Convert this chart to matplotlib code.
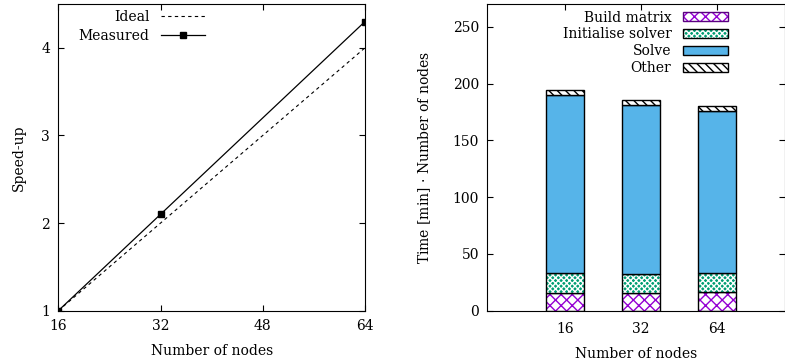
#!/usr/bin/env python3
# -*- coding: utf-8 -*-
"""Speed-up and time breakdown vs. number of nodes."""

import numpy as np
import matplotlib
matplotlib.use("Agg")
import matplotlib.pyplot as plt
from matplotlib.patches import Patch
from matplotlib.lines import Line2D

# --- data ---
nodes = [16, 32, 64]
speedup_ideal = [1.0, 2.0, 4.0]
speedup_measured = [1.0, 2.1, 4.3]

node_labels = ["16", "32", "64"]
t_build = [15.3, 15.9, 16.5]
t_init = [18.2, 16.7, 17.0]
t_solve = [156.6, 148.4, 142.5]
t_other = [4.2, 4.2, 4.5]

plt.rcParams["font.family"] = ["DejaVu Serif"]
plt.rcParams["font.size"] = 10
plt.rcParams["hatch.linewidth"] = 1.0

W, H = 785, 364
fig = plt.figure(figsize=(W / 100, H / 100), dpi=100)

bot = 1 - 310.7 / H
top = 1 - 4 / H

# ---------------- left: speed-up ----------------
ax1 = fig.add_axes([58.3 / W, bot, (365 - 58.3) / W, top - bot])
ax1.plot(nodes, speedup_ideal, ls=(0, (3, 3)), lw=0.8, color="black", label="Ideal")
ax1.plot(nodes, speedup_measured, ls="-", lw=0.9, color="black",
         marker="s", ms=4, label="Measured")
ax1.set_xlim(16, 64)
ax1.set_ylim(1, 4.5)
ax1.set_xticks([16, 32, 48, 64])
ax1.set_yticks([1, 2, 3, 4])
ax1.tick_params(direction="in", top=True, right=True, length=4, pad=6)
ax1.set_xlabel("Number of nodes", labelpad=8)
ax1.set_ylabel("Speed-up", labelpad=11)
h1 = [Line2D([], [], ls=(0, (3, 3)), lw=0.8, color="black"),
      Line2D([], [], ls="-", lw=0.9, color="black", marker="s", ms=4)]
ax1.legend(h1, ["Ideal", "Measured"], loc="upper left",
           bbox_to_anchor=(0.035, 1.012), frameon=False, markerfirst=False,
           handlelength=3.2, labelspacing=0.35, borderpad=0.2)

# ---------------- right: time breakdown ----------------
ax2 = fig.add_axes([487.3 / W, bot, 1.0 - 487.3 / W, top - bot])
x = np.arange(len(node_labels))
wbar = 0.5

layers = [
    ("Build matrix", t_build, "white", "#9400d3", "xxx"),
    ("Initialise solver", t_init, "#009e73", "white", "xxxxxx"),
    ("Solve", t_solve, "#56b4e9", "#56b4e9", None),
    ("Other", t_other, "white", "black", "\\\\\\\\"),
]
base = np.zeros(len(x))
handles = []
for name, vals, fc, hc, hatch in layers:
    vals = np.asarray(vals)
    ax2.bar(x, vals, wbar, bottom=base, color=fc, edgecolor=hc, hatch=hatch, lw=0)
    ax2.bar(x, vals, wbar, bottom=base, facecolor="none", edgecolor="black", lw=1.0)
    base = base + vals
    outline_c = "#5a0080" if name == "Build matrix" else "black"
    handles.append((Patch(facecolor=fc, edgecolor=hc, hatch=hatch, lw=0),
                    Patch(facecolor="none", edgecolor=outline_c, lw=1.0)))

ax2.set_xlim(-1.02, 2.9)
ax2.set_ylim(0, 270)
ax2.set_xticks(x)
ax2.set_xticklabels(node_labels)
ax2.set_yticks([0, 50, 100, 150, 200, 250])
ax2.tick_params(direction="in", top=True, right=True, length=4, pad=6)
ax2.tick_params(axis="x", length=4, pad=8, top=True, bottom=False)
ax2.set_xlabel("Number of nodes", labelpad=8)
ax2.set_ylabel("Time [min] $\\cdot$ Number of nodes", labelpad=14)
ax2.legend(handles, [l[0] for l in layers], loc="upper left",
           bbox_to_anchor=(0.22, 1.01), frameon=False, markerfirst=False,
           handlelength=3.3, handleheight=0.6, labelspacing=0.2, borderpad=0.2)

fig.savefig("out.png", dpi=100)
